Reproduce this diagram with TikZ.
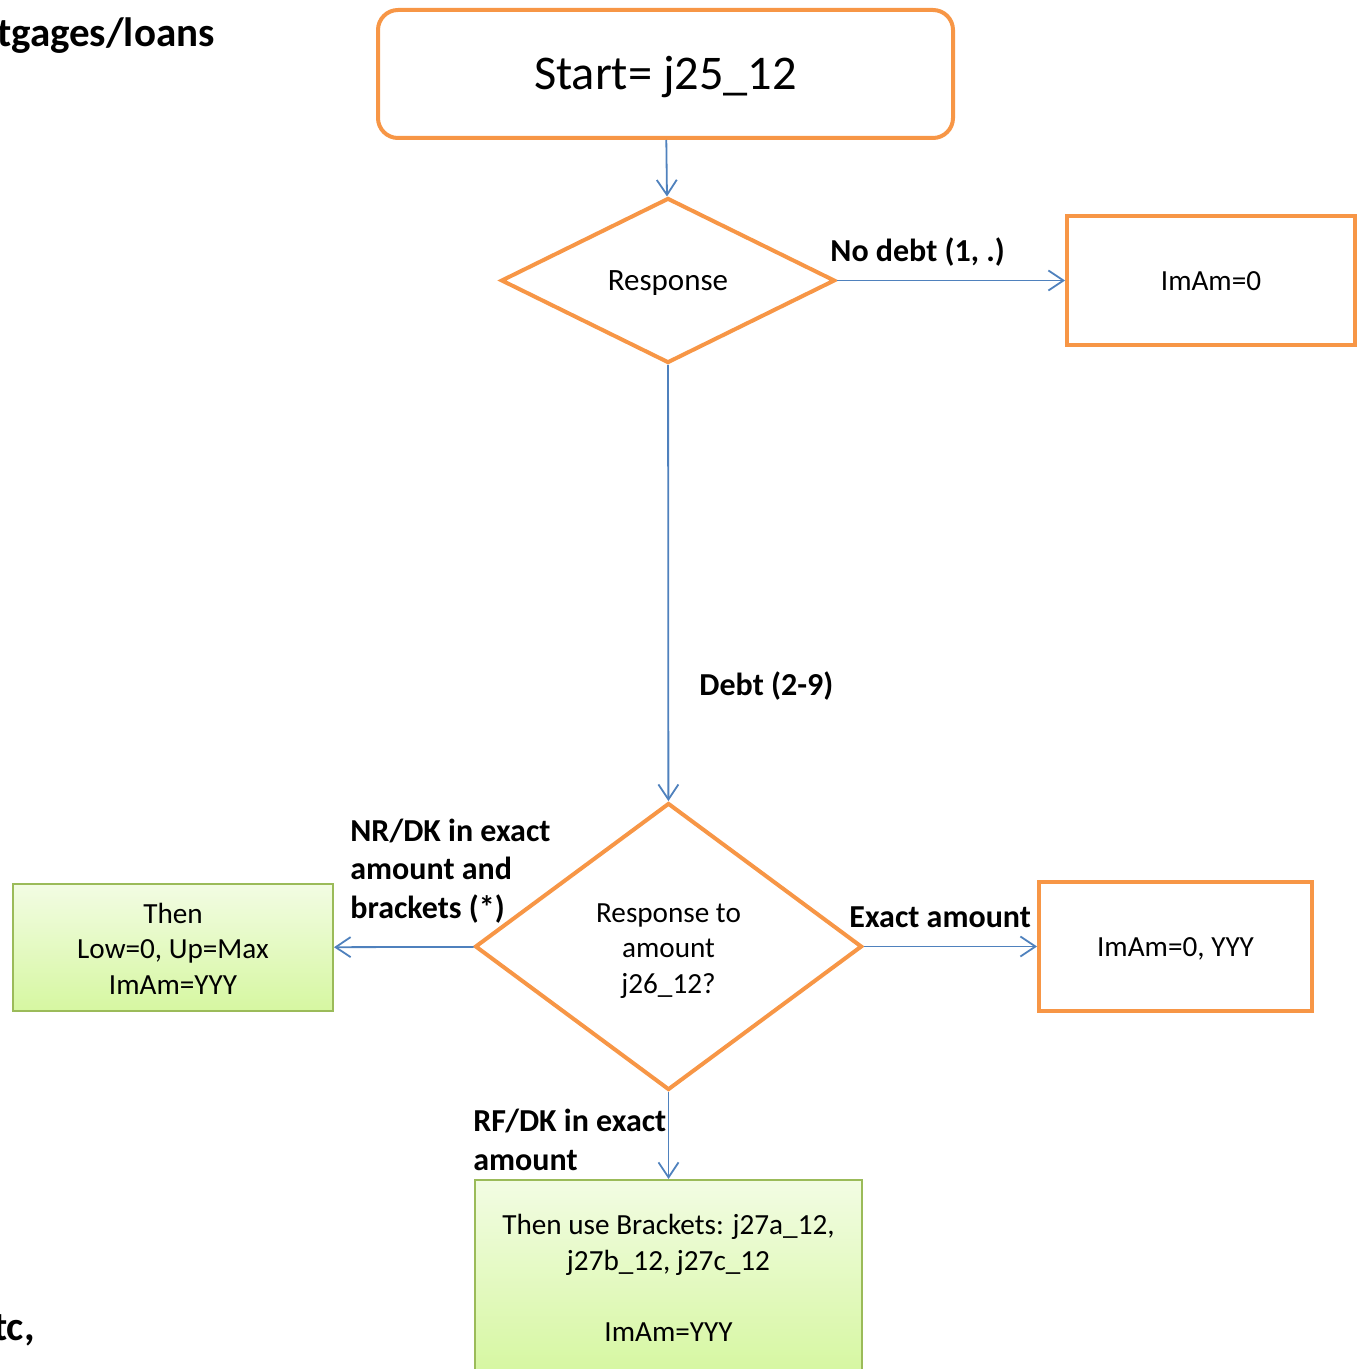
\documentclass[tikz,border=0pt]{standalone}
\usepackage{fontspec}
\setmainfont{Carlito}
\usetikzlibrary{shapes.geometric,arrows.meta}
\definecolor{flowOrange}{HTML}{F79646}
\definecolor{flowBlue}{HTML}{4F81BD}
\definecolor{flowGreen}{HTML}{9BBB59}
\definecolor{greenTop}{HTML}{F2FCE3}
\definecolor{greenBot}{HTML}{D6F7A1}
\newcommand\raiserow{\rule{0pt}{1.0em}}% taller first row of a text block

\begin{document}
\begin{tikzpicture}[x=0.5pt, y=-0.5pt,
  font=\fontsize{14.6}{17.75}\selectfont,
  linebox/.style={execute at begin node={\rule[-.24em]{0pt}{1.14em}},
    execute at end node={\rule[-.24em]{0pt}{1.14em}}},
  orangebox/.style={draw=flowOrange, line width=2pt, align=center, inner sep=0pt, linebox},
  choice/.style={draw=flowOrange, line width=2pt, diamond, align=center, inner sep=0pt, linebox},
  greenbox/.style={draw=flowGreen, line width=1pt, top color=greenTop, bottom color=greenBot,
    align=center, inner sep=0pt, linebox},
  flow/.style={draw=flowBlue, line width=0.9pt, -{Straight Barb[length=7.5pt, width=10pt]}},
  lbl/.style={font=\fontsize{16}{19.25}\selectfont\bfseries, align=left, inner sep=0pt}]
  \useasboundingbox (0,0) rectangle (1357,1369);
  % loose bits of text cut by the page edge
  \node [anchor=base east, font=\fontsize{20.5}{24}\selectfont\bfseries, inner sep=0pt] (title) at (215,47) {tgages/loans};
  \node [anchor=base east, font=\fontsize{20.5}{24}\selectfont\bfseries, inner sep=0pt] (etc) at (35,1340) {tc,};
  % boxes
  \node [orangebox, rounded corners=10pt, minimum width=287.5pt, minimum height=64pt,
    font=\fontsize{24.2}{28}\selectfont] (start) at (665.5,74) {Start= j25\_12};
  \node [choice, minimum width=167pt, minimum height=82.5pt, font=\fontsize{15.5}{18}\selectfont]
    (resp) at (668,280.5) {Response};
  \node [orangebox, minimum width=144pt, minimum height=64.5pt] (zero) at (1211,280.5) {ImAm=0};
  \node [choice, minimum width=193.5pt, minimum height=143.5pt] (amount) at (668.5,946.5)
    {\raiserow Response to\\amount\\j26\_12?};
  \node [orangebox, minimum width=136.5pt, minimum height=64.5pt] (exact) at (1175.5,946.5) {ImAm=0, YYY};
  \node [greenbox, minimum width=160pt, minimum height=63.5pt] (maxbox) at (173,947.5)
    {\raiserow Then\\Low=0, Up=Max\\ImAm=YYY};
  \node [greenbox, minimum width=193.5pt, minimum height=97pt] (brackets) at (668.5,1277)
    {\raiserow Then use Brackets: j27a\_12,\\j27b\_12, j27c\_12\\[17.75pt]ImAm=YYY};
  % connectors
  \draw [flow] (start) -- (resp);
  \draw [flow] (resp) -- (zero);
  \draw [flow] (resp) -- (amount);
  \draw [flow] (amount) -- (maxbox);
  \draw [flow] (amount) -- (exact);
  \draw [flow] (amount) -- (brackets);
  % labels (base = last line)
  \node [lbl, anchor=base west] (nodebt) at (830,262) {No debt (1, .)};
  \node [lbl, anchor=base west] (debt) at (699,695) {Debt (2-9)};
  \node [lbl, anchor=base west] (nrdk) at (350,918) {NR/DK in exact\\amount and\\brackets (*)};
  \node [lbl, anchor=base west] (exactlbl) at (849,927) {Exact amount};
  \node [lbl, anchor=base west] (rfdk) at (473,1170) {RF/DK in exact\\amount};
\end{tikzpicture}
\end{document}
